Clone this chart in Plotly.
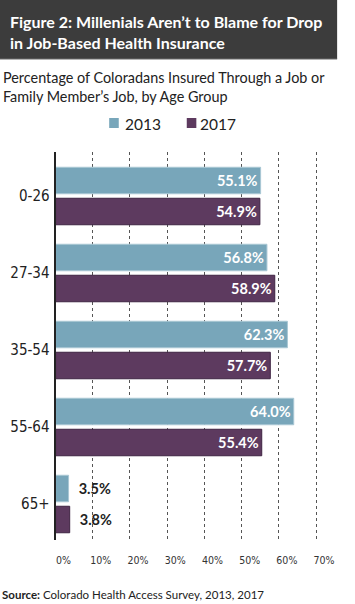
import plotly.graph_objects as go

# ---- data ----
age_groups = ["0-26", "27-34", "35-54", "55-64", "65+"]
pct_2013 = [55.1, 56.8, 62.3, 64.0, 3.5]
pct_2017 = [54.9, 58.9, 57.7, 55.4, 3.8]
series_names = ["2013", "2017"]
x_ticks = [0, 10, 20, 30, 40, 50, 60, 70]
x_tick_labels = ["0%", "10%", "20%", "30%", "40%", "50%", "60%", "70%"]

title_lines = ["Figure 2: Millenials Aren’t to Blame for Drop",
               "in Job-Based Health Insurance"]
subtitle_lines = ["Percentage of Coloradans Insured Through a Job or",
                  "Family Member’s Job, by Age Group"]
source_text = "<b>Source:</b> Colorado Health Access Survey, 2013, 2017"

# ---- styling ----
W, H = 355, 604
C2013 = "#78a6ba"
C2017 = "#5d3a5f"
DARK = "#222222"
FONT = "Lato, 'Open Sans', sans-serif"
COND = "'Liberation Sans Narrow', 'DejaVu Sans Condensed', Roboto, sans-serif"
colors = [C2013, C2017]
line_colors = ["#a9c7d4", "#3e2342"]


def px(x):
    return x / W


def py(y):
    return 1 - y / H


def labels(vals):
    return [f"{v:.1f}%" if v > 10 else f"  {v:.1f}%" for v in vals]


def positions(vals):
    return ["inside" if v > 10 else "outside" for v in vals]


fig = go.Figure()
for name, vals, col, lcol in zip(series_names, [pct_2013, pct_2017], colors, line_colors):
    fig.add_trace(go.Bar(
        orientation="h", y=age_groups, x=vals, name=name,
        marker=dict(color=col, line=dict(color=lcol, width=1)),
        text=labels(vals), textposition=positions(vals),
        insidetextanchor="end", textangle=0, constraintext="none",
        insidetextfont=dict(color="white", size=14.5, family=FONT, weight="bold"),
        outsidetextfont=dict(color=DARK, size=14.5, family=FONT, weight="bold"),
        cliponaxis=False, hoverinfo="skip", showlegend=False,
    ))

# axis pixel geometry
x_left, x_per10 = 58, 38.86
x_max = 71
x_right = x_left + x_max * x_per10 / 10
y_top, y_bot = 152, 540

shapes = [
    dict(type="rect", xref="paper", yref="paper", x0=0, x1=px(352), y0=py(59), y1=1,
         fillcolor="#3c3c3c", line=dict(width=0), layer="below"),
    dict(type="line", xref="paper", yref="paper", x0=0, x1=px(352), y0=py(59), y1=py(59),
         line=dict(color="#6a6a6a", width=1)),
]
ann = []
# legend (squares + labels)
for name, col, sq_x, tx_x in zip(series_names, colors, [114, 195], [128, 207]):
    shapes.append(dict(type="rect", xref="paper", yref="paper",
                       x0=px(sq_x), x1=px(sq_x + 10), y0=py(128), y1=py(118),
                       fillcolor=col, line=dict(width=0)))
    ann.append(dict(text=name, x=px(tx_x), y=py(124), xref="paper", yref="paper",
                    xanchor="left", yanchor="middle", showarrow=False,
                    font=dict(size=15.5, color=DARK, family=FONT)))

fig.update_layout(
    width=W, height=H,
    margin=dict(l=0, r=0, t=0, b=0),
    paper_bgcolor="white", plot_bgcolor="white",
    barmode="group", bargap=0.195, bargroupgap=0.145,
    font=dict(family=FONT, color=DARK),
    showlegend=False,
    xaxis=dict(domain=[px(x_left), px(x_right)], range=[0, x_max],
               tickvals=x_ticks, ticktext=x_tick_labels,
               showgrid=True, griddash="dot", gridcolor="#555555", gridwidth=1,
               zeroline=False, showline=False, ticks="",
               tickfont=dict(size=10.5, family=COND, color="#333333"),
               ticklabelstandoff=12, ticklabelshift=8, fixedrange=True),
    yaxis=dict(domain=[py(y_bot), py(y_top)], type="category",
               range=[4 + (y_bot - 504) / 77, -(196 - y_top) / 77],
               showline=True, linecolor=DARK, linewidth=2, ticks="",
               showgrid=False, ticklabelstandoff=1,
               tickfont=dict(size=15, family=COND, color=DARK), fixedrange=True),
    shapes=shapes,
)

for i, t in enumerate(title_lines):
    ann.append(dict(text=t, x=px(8), y=py(22 + 21 * i), xref="paper", yref="paper",
                    xanchor="left", yanchor="middle", showarrow=False,
                    font=dict(size=16, color="white", family=FONT, weight="bold")))
for i, t in enumerate(subtitle_lines):
    ann.append(dict(text=t, x=px(1), y=py(77 + 20 * i), xref="paper", yref="paper",
                    xanchor="left", yanchor="middle", showarrow=False,
                    font=dict(size=14.4, color=DARK, family=FONT)))
ann.append(dict(text=source_text, x=0, y=py(594), xref="paper", yref="paper",
                xanchor="left", yanchor="middle", showarrow=False,
                font=dict(size=11.5, color=DARK, family=FONT)))
fig.update_layout(annotations=ann)

fig.write_html("out.html", config={"displayModeBar": False},
               post_script="document.body.style.margin='0';document.body.style.overflow='hidden';")
